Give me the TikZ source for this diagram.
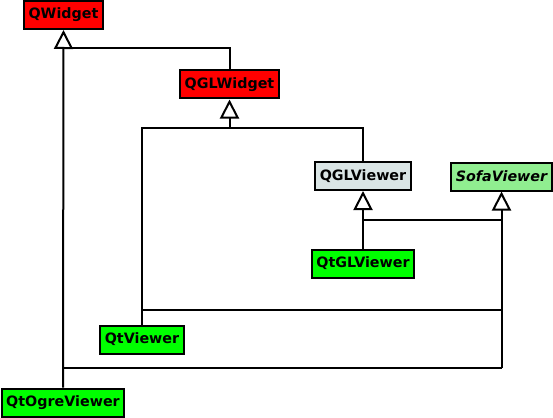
\documentclass[tikz,border=0pt]{standalone}
\usepackage{fontspec}
\setmainfont{DejaVu Sans}
\usetikzlibrary{arrows.meta,positioning}

\begin{document}
\begin{tikzpicture}[x=1pt, y=-1pt, line width=2pt,
cls/.style={draw, font=\fontsize{14.3}{15}\bfseries, minimum height=28pt, inner xsep=4.5pt, inner ysep=2pt},
inherit/.style={-{Triangle[open, width=19pt, length=19pt]}}]
\useasboundingbox (0,0) rectangle (553,417);
\definecolor{qtred}{HTML}{FF0000}
\definecolor{qtgreen}{HTML}{00FF00}
\definecolor{sofagreen}{HTML}{90EE90}
\definecolor{qglgray}{HTML}{DAE5E5}

\node [cls, fill=qtred] (QWidget) at (63.5,15) {QWidget};
\node [cls, fill=qtred] (QGLWidget) at (229.5,84.5) {QGLWidget};
\node [cls, fill=qglgray] (QGLViewer) at (363,176) {QGLViewer};
\node [cls, fill=sofagreen] (SofaViewer) at (501.5,176.5) {\itshape SofaViewer};
\node [cls, fill=qtgreen] (QtGLViewer) at (363,263.5) {QtGLViewer};
\node [cls, fill=qtgreen] (QtViewer) at (142,339.5) {QtViewer};
\node [cls, fill=qtgreen] (QtOgreViewer) at (63,402.5) {QtOgreViewer};

\coordinate (j_QWidget) at (63,48);
\coordinate (j_QGLWidget) at (229.5,128);
\coordinate (j_Sofa) at (501.5,368);

\draw [inherit] (QtOgreViewer.north) -- (QWidget.south);
\draw (QGLWidget.north) |- (j_QWidget);

\draw [inherit] (QtViewer.north) |- (j_QGLWidget) -- (QGLWidget.south);
\draw (QGLViewer.north) |- (j_QGLWidget);

\draw [inherit] (QtGLViewer.north) -- (QGLViewer.south);

\draw [inherit] (j_Sofa) -- (SofaViewer.south);
\draw (QtOgreViewer.north |- j_Sofa) -- (j_Sofa);
\draw (QtViewer.north |- 0,310) -- (j_Sofa |- 0,310);
\draw (QtGLViewer.north |- 0,220) -- (j_Sofa |- 0,220);

\end{tikzpicture}
\end{document}
